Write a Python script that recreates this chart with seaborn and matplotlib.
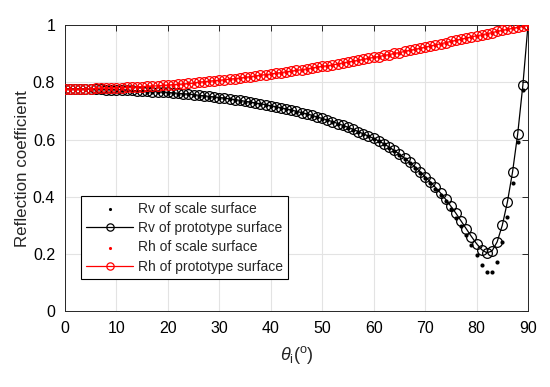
import numpy as np
import pandas as pd
import matplotlib
matplotlib.use('Agg')
import matplotlib.pyplot as plt
import seaborn as sns

# incidence angle (deg), one sample per degree
angle = list(range(0, 91))

# Rv, prototype surface (line + circles)
rv_proto = [0.777, 0.777, 0.777, 0.777, 0.777, 0.776, 0.776, 0.776, 0.775, 0.775,
            0.774, 0.774, 0.773, 0.772, 0.771, 0.770, 0.769, 0.768, 0.767, 0.766,
            0.765, 0.763, 0.762, 0.760, 0.759, 0.757, 0.755, 0.753, 0.751, 0.749,
            0.747, 0.745, 0.742, 0.740, 0.737, 0.734, 0.731, 0.728, 0.725, 0.722,
            0.718, 0.715, 0.711, 0.707, 0.703, 0.699, 0.694, 0.690, 0.685, 0.679,
            0.674, 0.668, 0.663, 0.656, 0.650, 0.643, 0.636, 0.628, 0.620, 0.612,
            0.604, 0.595, 0.585, 0.574, 0.562, 0.549, 0.535, 0.521, 0.505, 0.488,
            0.470, 0.452, 0.433, 0.413, 0.391, 0.367, 0.342, 0.315, 0.288, 0.261,
            0.236, 0.215, 0.204, 0.210, 0.242, 0.300, 0.382, 0.487, 0.620, 0.790,
            1.000]

# Rv, scale surface (dots)
rv_scale = [0.776, 0.776, 0.776, 0.776, 0.776, 0.775, 0.775, 0.775, 0.774, 0.774,
            0.773, 0.773, 0.772, 0.771, 0.770, 0.769, 0.768, 0.767, 0.766, 0.765,
            0.764, 0.762, 0.761, 0.759, 0.758, 0.756, 0.754, 0.752, 0.750, 0.748,
            0.746, 0.744, 0.741, 0.739, 0.736, 0.733, 0.730, 0.727, 0.724, 0.721,
            0.717, 0.714, 0.710, 0.706, 0.702, 0.698, 0.693, 0.689, 0.684, 0.678,
            0.673, 0.667, 0.662, 0.655, 0.649, 0.642, 0.635, 0.627, 0.619, 0.611,
            0.603, 0.594, 0.584, 0.572, 0.560, 0.547, 0.533, 0.518, 0.502, 0.484,
            0.466, 0.447, 0.426, 0.406, 0.386, 0.357, 0.327, 0.298, 0.266, 0.231,
            0.196, 0.161, 0.138, 0.138, 0.173, 0.241, 0.330, 0.447, 0.592, 0.775,
            1.000]

# Rh, prototype surface (line + circles)
rh_proto = [0.776, 0.776, 0.776, 0.776, 0.777, 0.777, 0.779, 0.780, 0.780, 0.781,
            0.781, 0.782, 0.783, 0.783, 0.784, 0.785, 0.786, 0.787, 0.788, 0.789,
            0.790, 0.792, 0.793, 0.794, 0.796, 0.797, 0.801, 0.802, 0.804, 0.806,
            0.807, 0.809, 0.811, 0.813, 0.815, 0.817, 0.820, 0.822, 0.825, 0.827,
            0.829, 0.832, 0.834, 0.837, 0.839, 0.842, 0.844, 0.847, 0.850, 0.853,
            0.856, 0.858, 0.861, 0.864, 0.868, 0.871, 0.874, 0.877, 0.880, 0.884,
            0.887, 0.890, 0.894, 0.897, 0.901, 0.904, 0.908, 0.912, 0.915, 0.919,
            0.923, 0.927, 0.931, 0.935, 0.939, 0.943, 0.947, 0.951, 0.955, 0.959,
            0.963, 0.966, 0.970, 0.974, 0.978, 0.982, 0.985, 0.989, 0.992, 0.996,
            1.000]

# Rh, scale surface (dots) - sits under the prototype circles
rh_scale = [0.776, 0.776, 0.776, 0.776, 0.777, 0.777, 0.779, 0.780, 0.780, 0.781,
            0.781, 0.782, 0.783, 0.783, 0.784, 0.785, 0.786, 0.787, 0.788, 0.789,
            0.790, 0.792, 0.793, 0.794, 0.796, 0.797, 0.801, 0.802, 0.804, 0.806,
            0.807, 0.809, 0.811, 0.813, 0.815, 0.817, 0.820, 0.822, 0.825, 0.827,
            0.829, 0.832, 0.834, 0.837, 0.839, 0.842, 0.844, 0.847, 0.850, 0.853,
            0.856, 0.858, 0.861, 0.864, 0.868, 0.871, 0.874, 0.877, 0.880, 0.884,
            0.887, 0.890, 0.894, 0.897, 0.901, 0.904, 0.908, 0.912, 0.915, 0.919,
            0.923, 0.927, 0.931, 0.935, 0.939, 0.943, 0.947, 0.951, 0.955, 0.959,
            0.963, 0.966, 0.970, 0.974, 0.978, 0.982, 0.985, 0.989, 0.992, 0.996,
            1.000]

xticks = [0, 10, 20, 30, 40, 50, 60, 70, 80, 90]
yticks = [0, 0.2, 0.4, 0.6, 0.8, 1]
ytick_labels = ['0', '0.2', '0.4', '0.6', '0.8', '1']

df = pd.DataFrame({'angle': angle, 'rv_proto': rv_proto, 'rv_scale': rv_scale,
                   'rh_proto': rh_proto, 'rh_scale': rh_scale})

sns.set_style('white')
plt.rcParams['font.family'] = ['Liberation Sans', 'DejaVu Sans']
plt.rcParams['mathtext.fontset'] = 'custom'
plt.rcParams['mathtext.rm'] = 'Liberation Sans'
plt.rcParams['mathtext.it'] = 'Liberation Sans:italic'

fig = plt.figure(figsize=(5.5, 3.87), dpi=100)
ax = fig.add_axes([0.118, 0.196, 0.842, 0.739])

# Rv
sns.scatterplot(data=df, x='angle', y='rv_scale', ax=ax, color='black', s=9,
                linewidth=0, label='Rv of scale surface', zorder=3)
sns.lineplot(data=df, x='angle', y='rv_proto', ax=ax, color='black', lw=0.9,
             marker='o', markersize=7, markerfacecolor='none',
             markeredgecolor='black', markeredgewidth=0.9,
             label='Rv of prototype surface', zorder=3)
# Rh
sns.scatterplot(data=df, x='angle', y='rh_scale', ax=ax, color='red', s=9,
                linewidth=0, label='Rh of scale surface', zorder=4)
sns.lineplot(data=df, x='angle', y='rh_proto', ax=ax, color='red', lw=0.9,
             marker='o', markersize=7, markerfacecolor='none',
             markeredgecolor='red', markeredgewidth=0.9,
             label='Rh of prototype surface', zorder=4)

ax.set_xlim(0, 90)
ax.set_ylim(0, 1)
ax.set_xticks(xticks)
ax.set_yticks(yticks)
ax.set_yticklabels(ytick_labels)
ax.grid(True, color='#e3e3e3', lw=0.8)
ax.set_axisbelow(True)
ax.tick_params(direction='in', length=4, width=0.7, top=True, right=True,
               labelsize=11.5, colors='#262626', labelcolor='black', pad=7)
for sp in ax.spines.values():
    sp.set_color('#262626')
    sp.set_linewidth(0.7)

ax.set_xlabel(r'$\theta_\mathrm{i}$($^\mathrm{o}$)', fontsize=13, labelpad=6)
ax.set_ylabel('Reflection coefficient', fontsize=12.2, labelpad=2)

leg = ax.legend(loc='lower left', bbox_to_anchor=(0.034, 0.112), borderaxespad=0,
                fontsize=10, handlelength=3.4, frameon=True, fancybox=False,
                edgecolor='black', framealpha=1, labelspacing=0.38,
                borderpad=0.4, handletextpad=0.3, markerscale=0.75)
leg.get_frame().set_linewidth(0.8)

plt.savefig('out.png', dpi=100)
